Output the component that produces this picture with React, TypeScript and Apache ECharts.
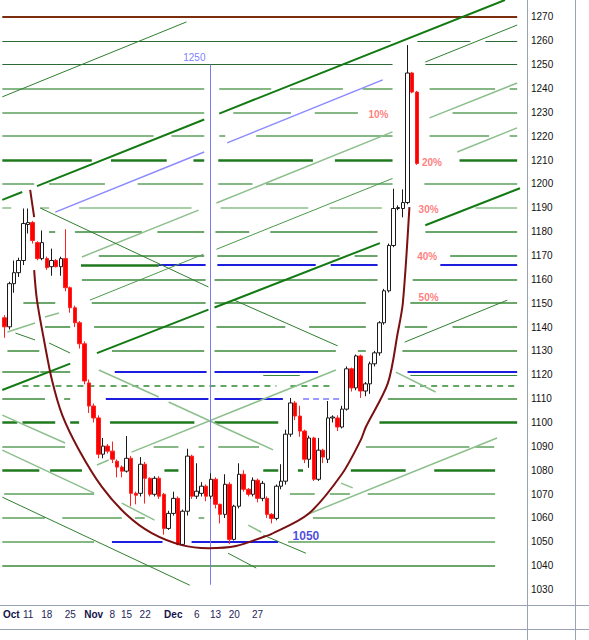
import React, { useEffect, useRef } from "react";
import * as echarts from "echarts";

// ---------- axes ----------
const slotCount = 112;
const tickSlots = [1, 5, 9, 14, 19, 23, 26, 30, 36, 41, 45, 49, 54];
const tickLabels = ["Oct", "11", "18", "25", "Nov", "8", "15", "22", "Dec", "6", "13", "20", "27"];
const monthLabels = ["Oct", "Nov", "Dec"];
const priceTicks = [1030, 1040, 1050, 1060, 1070, 1080, 1090, 1100, 1110, 1120, 1130, 1140, 1150, 1160, 1170, 1180, 1190, 1200, 1210, 1220, 1230, 1240, 1250, 1260, 1270];
const priceMin = 1023.5;
const priceMax = 1277.1;

// ---------- candles ----------
const opens = [1143.9, 1140.1, 1158.2, 1162.8, 1167.9, 1183.0, 1183.8, 1175.4, 1168.7, 1168.7, 1165.3, 1167.9, 1165.3, 1168.7, 1156.5, 1148.1, 1141.8, 1133.0, 1116.6, 1106.9, 1101.9, 1086.7, 1090.1, 1088.0, 1083.8, 1081.3, 1079.6, 1085.0, 1070.3, 1070.3, 1082.5, 1076.6, 1069.9, 1076.6, 1069.9, 1055.6, 1061.9, 1068.2, 1048.9, 1062.8, 1085.9, 1069.1, 1070.3, 1073.3, 1069.1, 1076.2, 1065.7, 1061.5, 1074.1, 1051.0, 1064.9, 1078.3, 1072.0, 1069.9, 1075.8, 1068.2, 1068.2, 1061.5, 1059.8, 1073.3, 1075.4, 1095.1, 1108.2, 1102.7, 1096.4, 1084.6, 1093.5, 1076.2, 1088.4, 1084.6, 1101.9, 1101.9, 1098.1, 1105.6, 1122.5, 1114.5, 1127.9, 1113.2, 1116.2, 1124.6, 1129.2, 1141.8, 1155.2, 1174.2, 1189.7, 1189.7, 1192.2, 1246.5, 1238.5];
const closes = [1140.1, 1158.2, 1162.8, 1167.9, 1183.4, 1183.8, 1176.3, 1168.7, 1175.4, 1164.9, 1167.9, 1165.3, 1168.7, 1156.5, 1148.1, 1141.8, 1133.0, 1117.4, 1106.9, 1101.9, 1086.7, 1090.1, 1088.0, 1084.6, 1081.3, 1079.6, 1085.0, 1070.3, 1069.5, 1082.5, 1076.6, 1069.9, 1076.6, 1069.1, 1055.6, 1061.9, 1068.2, 1048.9, 1062.8, 1085.9, 1069.1, 1071.2, 1073.3, 1069.1, 1076.2, 1065.7, 1061.5, 1074.1, 1051.0, 1064.9, 1078.3, 1072.0, 1069.9, 1075.8, 1068.2, 1074.5, 1061.5, 1059.8, 1073.3, 1075.4, 1095.1, 1108.2, 1102.7, 1096.4, 1084.6, 1093.5, 1076.2, 1088.4, 1085.5, 1101.9, 1102.3, 1098.1, 1105.6, 1122.5, 1114.5, 1127.9, 1113.2, 1116.2, 1124.6, 1129.2, 1141.8, 1155.2, 1174.2, 1189.7, 1190.1, 1192.2, 1246.5, 1238.5, 1208.6];
const lows = [1135.5, 1139.0, 1154.4, 1161.0, 1166.0, 1179.2, 1175.0, 1168.0, 1168.0, 1164.0, 1161.5, 1165.0, 1161.5, 1155.0, 1146.0, 1140.0, 1131.0, 1116.0, 1104.0, 1100.0, 1085.0, 1085.0, 1087.0, 1083.0, 1077.0, 1077.0, 1079.0, 1064.9, 1065.7, 1069.0, 1066.0, 1069.0, 1069.0, 1068.0, 1053.0, 1055.0, 1061.0, 1048.5, 1048.5, 1061.0, 1068.0, 1068.0, 1069.0, 1067.0, 1068.0, 1064.0, 1057.7, 1060.0, 1049.0, 1050.5, 1064.0, 1071.0, 1069.0, 1069.0, 1066.5, 1067.0, 1060.0, 1057.7, 1059.0, 1072.0, 1074.0, 1094.0, 1101.0, 1094.0, 1083.0, 1081.0, 1075.5, 1075.5, 1083.0, 1083.0, 1100.0, 1096.4, 1097.5, 1105.0, 1113.0, 1113.5, 1110.3, 1111.0, 1112.0, 1123.5, 1128.0, 1141.0, 1154.5, 1173.5, 1189.0, 1186.0, 1191.5, 1238.0, 1208.0];
const highs = [1145.0, 1159.0, 1167.9, 1169.1, 1189.7, 1189.7, 1184.5, 1176.0, 1180.5, 1169.5, 1172.9, 1168.5, 1169.5, 1181.0, 1157.0, 1149.0, 1142.5, 1134.0, 1118.0, 1108.0, 1103.0, 1093.5, 1091.0, 1092.0, 1084.5, 1082.0, 1094.3, 1086.0, 1071.0, 1085.5, 1083.5, 1077.0, 1077.5, 1077.5, 1070.5, 1063.0, 1071.0, 1069.0, 1063.5, 1089.0, 1086.5, 1082.9, 1075.0, 1074.0, 1078.7, 1077.0, 1066.0, 1078.3, 1075.0, 1065.5, 1082.9, 1080.0, 1072.5, 1077.0, 1076.5, 1075.5, 1069.0, 1062.0, 1074.0, 1082.5, 1097.0, 1110.3, 1109.0, 1107.0, 1097.0, 1094.5, 1094.0, 1093.5, 1089.0, 1109.0, 1103.0, 1103.0, 1107.0, 1123.5, 1123.0, 1128.5, 1128.5, 1117.0, 1125.5, 1130.0, 1142.5, 1156.0, 1175.0, 1198.0, 1191.0, 1197.7, 1258.2, 1247.0, 1239.0];

// ---------- horizontal level segments: [price, fromSlot, toSlot] ----------
const brownLevels = [[1270, -0.5, 109.4]];
const darkLevels = [
  [1260, -0.5, 82.4], [1260, 88.1, 99.4], [1260, 102.6, 109.4],
  [1250, -0.5, 82.8], [1250, 89.8, 109.4],
];
const lightLevels = [
  [1240, -0.5, 42.6], [1240, 45.8, 56.9], [1240, 60.9, 72.2], [1240, 76.4, 82.8], [1240, 90.7, 104.7], [1240, 107.8, 109.4],
  [1230, -0.5, 42.6], [1230, 48.8, 61.1], [1230, 66.2, 75.4], [1230, 95.6, 109.4],
  [1220, -0.5, 31.8], [1220, 35.6, 42.6], [1220, 45.8, 47.1], [1220, 53.7, 82.8], [1220, 90.7, 103.4], [1220, 107.8, 109.4],
  [1200, -0.5, 6.3], [1200, 9.5, 21.4], [1200, 28.4, 42.4], [1200, 45.6, 52.9], [1200, 55.8, 82.8], [1200, 89.6, 109.4],
  [1090, -0.5, 12.9], [1090, 31.8, 37.1], [1090, 41.4, 42.6], [1090, 45.6, 54.3], [1090, 77.1, 99.2], [1090, 100.5, 104.5],
  [1070, -0.1, 19.1], [1070, 60.9, 66.2], [1070, 69.4, 73.7], [1070, 77.5, 104.7],
  [1060, -0.5, 8.6], [1060, 12.3, 25], [1060, 27.8, 29.9], [1060, 41.4, 42.6], [1060, 65.8, 104.7],
  [1050, -0.5, 19.1], [1050, 60.5, 104.7],
];
const paleLevels = [
  [1190, -0.5, 1.4], [1190, 7.6, 9.5], [1190, 15.9, 39.9], [1190, 46.1, 64.8], [1190, 69.4, 80.5], [1190, 100.5, 109.4],
];
const midLevels = [
  [1180, 9.5, 10.8], [1180, 15, 29.3], [1180, 32.6, 42.6], [1180, 45, 52.2], [1180, 56.7, 79.6], [1180, 89.8, 109.4],
  [1170, 20.1, 42.6], [1170, 45.4, 71.5], [1170, 74.7, 79.6], [1170, 95.1, 109.4],
  [1160, 16.5, 42.9], [1160, 44.8, 79.6], [1160, 87.1, 109.4],
  [1150, 4, 10.8], [1150, 18.6, 42.9], [1150, 44.8, 77.1], [1150, 86.6, 109.4],
  [1140, 8.6, 14], [1140, 19.1, 42.6], [1140, 45.2, 59.9], [1140, 65, 77.1], [1140, 85.4, 90.2], [1140, 95.6, 109.4],
  [1130, 0.6, 7.4], [1130, 22.9, 42.6], [1130, 44.8, 70.7], [1130, 75.4, 77.1], [1130, 84.9, 109.4],
  [1121.2, -0.5, 7.4], [1121.2, 7.6, 14],
  [1110, -0.5, 8.6], [1110, 12.7, 14], [1110, 81.8, 109.4],
  [1040, -0.5, 104.7],
];
const thinGreenLevels = [[1119.8, 55.2, 63], [1119.8, 86.6, 109.4]];
const thickLevels = [
  [1210, -0.5, 18.6], [1210, 22.7, 34.6], [1210, 40.3, 42.6], [1210, 45.6, 65.8], [1210, 70.5, 82.8], [1210, 97.1, 109.4],
  [1166, 16.3, 32.9],
  [1100, -0.5, 2.7], [1100, 3.8, 10.8], [1100, 14, 15.9], [1100, 22.5, 40.5], [1100, 44.8, 58.4], [1100, 80, 109.4],
  [1080, -0.5, 7.4], [1080, 9.7, 16.5], [1080, 34.1, 37.1], [1080, 55.2, 58.4], [1080, 62.6, 63.7], [1080, 73.9, 85.6], [1080, 91.7, 104.7],
];
const blueLevels = [
  [1166, 32.9, 42.9], [1166, 45.4, 66.4], [1166, 69.6, 79.6], [1166, 93, 109.4],
  [1121.2, 23.5, 43.1], [1121.2, 44.8, 66.9], [1121.2, 86, 109.4],
  [1110, 21.6, 43.5], [1110, 44.8, 59.4],
  [1050, 22.9, 33.7], [1050, 39.9, 58.4],
];
const paleBlueLevels = [[1110, 63.7, 71.5]];
const dashedLevels = [[1115.3, 3.8, 58], [1115.3, 61, 70], [1115.3, 84, 109.4]];

// ---------- trend lines: [fromSlot, fromPrice, toSlot, toPrice] ----------
const thickTrends = [
  [-0.5, 1193.3, 3.75, 1196.6], [6.9, 1199.1, 42.6, 1227.0], [45.8, 1229.5, 106.8, 1277.1],
  [-0.5, 1113.6, 14, 1124.7], [19.7, 1129.1, 43.5, 1147.3], [44.8, 1148.2, 80.1, 1175.2], [89.8, 1182.7, 110, 1198.2],
];
const thinTrends = [
  [-0.5, 1236.5, 38.8, 1267.9],
  [89.8, 1251.1, 109.4, 1266.6],
  [7.6, 1189.9, 43.5, 1156.8], [49, 1151.3, 71.1, 1132.1],
  [85.4, 1133.7, 107.3, 1151.3],
  [2.3, 1137.5, 6.5, 1134.6], [9.5, 1133.3, 14, 1129.1],
  [-0.5, 1068.7, 39.5, 1031.8],
  [47.7, 1045.2, 53.7, 1039.0],
  [55.2, 1052.8, 64.3, 1045.2],
];
const lightTrends = [
  [16.5, 1169.4, 41.4, 1189.0], [45.2, 1192.0, 82.8, 1221.8],
  [19.7, 1082.2, 22.2, 1084.3], [27.1, 1087.6, 70.7, 1122.0],
  [20.1, 1122.0, 32.9, 1110.7], [35, 1108.6, 57.3, 1088.5],
  [64.3, 1061.2, 105.1, 1093.5],
  [83.5, 1121.1, 92, 1112.8],
  [90.7, 1227.7, 109.4, 1242.3], [96.6, 1213.4, 109.4, 1223.5],
  [-0.5, 1103.1, 12.9, 1091.4],
  [-0.5, 1088.4, 19.1, 1070.4],
  [25, 1066.2, 32, 1059.1],
  [52, 1057.0, 54.8, 1054.0],
  [71.8, 1074.6, 74.3, 1072.6],
  [0.6, 1137.9, 6.5, 1141.7], [8.6, 1144.2, 11.6, 1145.9],
];
const midTrends = [[18.2, 1151.3, 42.4, 1170.5], [45.2, 1172.6, 82.8, 1202.3]];
const lavenderTrends = [[10.8, 1188.2, 42.6, 1213.4], [47.5, 1217.2, 80.7, 1243.6]];
const markerLine = [[43.9, 1250, 43.9, 1032]];

// ---------- rounded bottom (cup) ----------
const cupTop = [[5.45, 1197.5], [6.3, 1186.1]];
const cupMain = [
  [6.3, 1163.9], [6.9, 1151.3], [8.4, 1134.6], [10.1, 1117.8], [12.3, 1103.1], [15.9, 1088.4],
  [20.8, 1072.9], [26.1, 1061.2], [31.4, 1053.6], [37.8, 1048.6], [43.5, 1047.3], [49.4, 1048.2],
  [55.2, 1052.0], [56.9, 1053.2], [64.8, 1061.6], [72, 1078.4], [76, 1092.6], [77.1, 1098.1],
  [81.8, 1116.5], [83.9, 1137.5], [85, 1150.1], [86.4, 1190.3],
];

// ---------- annotations ----------
const pctLabels = ["10%", "20%", "30%", "40%", "50%"];
const pctSlots = [79.8, 91.2, 90.5, 90.2, 90.5];
const pctValues = [1229.1, 1209.0, 1189.3, 1169.5, 1152.3];
const tagLabels = ["1250", "1050"];
const tagSlots = [40.5, 64.3];
const tagValues = [1252.8, 1052.4];

const FONT = "Liberation Sans, Arial, sans-serif";

function segs(list: number[][]) {
  return list.map(([v, a, b]) => ({ coords: [[a, v], [b, v]] }));
}
function trends(list: number[][]) {
  return list.map(([a, v1, b, v2]) => ({ coords: [[a, v1], [b, v2]] }));
}
function linesSeries(data: any[], lineStyle: any, z: number) {
  return {
    type: "lines",
    coordinateSystem: "cartesian2d",
    xAxisIndex: 1,
    yAxisIndex: 0,
    silent: true,
    z,
    lineStyle: { opacity: 1, ...lineStyle },
    data,
  };
}

export default function App() {
  const ref = useRef<HTMLDivElement>(null);
  useEffect(() => {
    if (!ref.current) return;
    const chart = echarts.init(ref.current, undefined, { renderer: "svg" });
    const categories = Array.from({ length: slotCount }, (_, i) => String(i));
    const labelOf: Record<number, string> = {};
    tickSlots.forEach((s, i) => (labelOf[s] = tickLabels[i]));
    const candleData = opens.map((o, i) => [o, closes[i], lows[i], highs[i]]);
    const frame = "#9aa3b6";
    const option: any = {
      animation: false,
      backgroundColor: "#ffffff",
      grid: { left: 0, top: 0, width: 527, height: 605, containLabel: false },
      xAxis: [
        {
          type: "category",
          data: categories,
          boundaryGap: true,
          axisLine: { show: false },
          axisTick: { show: false },
          splitLine: { show: false },
          axisLabel: {
            interval: 0,
            margin: 4,
            fontFamily: FONT,
            fontSize: 10,
            color: "#1e1e5a",
            formatter: (v: string) => {
              const t = labelOf[Number(v)];
              if (!t) return "";
              return monthLabels.includes(t) ? (t === "Oct" ? `{o|${t}}` : `{m|${t}}`) : `{n|${t}}`;
            },
            rich: {
              o: { fontWeight: "bold", fontSize: 10, fontFamily: FONT, color: "#14144a", padding: [0, 0, 0, 4] },
              m: { fontWeight: "bold", fontSize: 10, fontFamily: FONT, color: "#14144a" },
              n: { fontSize: 10, fontFamily: FONT, color: "#1e1e5a" },
            },
          },
        },
        { type: "value", min: -0.5, max: slotCount - 0.5, show: false },
      ],
      yAxis: {
        type: "value",
        position: "right",
        min: priceMin,
        max: priceMax,
        axisLine: { show: false },
        axisTick: { show: false },
        splitLine: { show: false },
        axisLabel: {
          customValues: priceTicks,
          margin: 4,
          fontFamily: FONT,
          fontSize: 10,
          color: "#111",
          formatter: (v: number) => String(Math.round(v)),
        },
      },
      graphic: [
        { type: "line", shape: { x1: 527.5, y1: 0, x2: 527.5, y2: 640 }, style: { stroke: frame, lineWidth: 1 }, z: 100 },
        { type: "line", shape: { x1: 575.5, y1: 0, x2: 575.5, y2: 640 }, style: { stroke: frame, lineWidth: 1 }, z: 100 },
        { type: "line", shape: { x1: 0, y1: 605.5, x2: 589, y2: 605.5 }, style: { stroke: frame, lineWidth: 1 }, z: 100 },
        { type: "line", shape: { x1: 0, y1: 629.5, x2: 589, y2: 629.5 }, style: { stroke: frame, lineWidth: 1 }, z: 100 },
      ],
      series: [
        linesSeries(segs(paleLevels), { color: "#a8cfa8", width: 2 }, 1),
        linesSeries(segs(lightLevels), { color: "#86b886", width: 2 }, 1),
        linesSeries(segs(midLevels), { color: "#3a883a", width: 1.5 }, 1),
        linesSeries(segs(thinGreenLevels), { color: "#3a883a", width: 1 }, 1),
        linesSeries(segs(darkLevels), { color: "#2c6a36", width: 1.2 }, 1),
        linesSeries(segs(thickLevels), { color: "#1f7a1f", width: 2.5 }, 1),
        linesSeries(segs(dashedLevels), { color: "#2e8b2e", width: 1.5, type: [6, 5] }, 1),
        linesSeries(segs(blueLevels), { color: "#1d1de0", width: 2 }, 2),
        linesSeries(segs(paleBlueLevels), { color: "#7a7aff", width: 1.5, type: [6, 4] }, 2),
        linesSeries(segs(brownLevels), { color: "#7a2e0e", width: 2 }, 2),
        linesSeries(trends(lightTrends), { color: "#8cbf8c", width: 1.5 }, 2),
        linesSeries(trends(midTrends), { color: "#4c9a4c", width: 1 }, 2),
        linesSeries(trends(thinTrends), { color: "#2f7f2f", width: 1 }, 2),
        linesSeries(trends(thickTrends), { color: "#137a13", width: 2 }, 2),
        linesSeries(trends(lavenderTrends), { color: "#8a8aff", width: 1.5 }, 2),
        linesSeries(trends(markerLine), { color: "#7c7cee", width: 1 }, 2),
        {
          type: "candlestick",
          xAxisIndex: 0,
          yAxisIndex: 0,
          data: candleData,
          barWidth: 4,
          z: 3,
          itemStyle: {
            color: "#ffffff",
            color0: "#ff0000",
            borderColor: "#1a1a1a",
            borderColor0: "#ff2020",
            borderWidth: 1,
          },
        },
        {
          type: "line",
          xAxisIndex: 1,
          yAxisIndex: 0,
          data: cupTop,
          symbol: "none",
          z: 4,
          lineStyle: { color: "#7a1010", width: 2 },
        },
        {
          type: "line",
          xAxisIndex: 1,
          yAxisIndex: 0,
          data: cupMain,
          symbol: "none",
          smooth: 0.3,
          z: 4,
          lineStyle: { color: "#7a1010", width: 2 },
        },
        {
          type: "scatter",
          xAxisIndex: 1,
          yAxisIndex: 0,
          symbolSize: 0,
          z: 6,
          data: pctSlots.map((x, i) => [x, pctValues[i], pctLabels[i]]),
          label: {
            show: true,
            position: "inside",
            formatter: (p: any) => p.data[2],
            color: "#ff5c5c",
            fontSize: 10,
            fontWeight: "bold",
            fontFamily: FONT,
          },
        },
        {
          type: "scatter",
          xAxisIndex: 1,
          yAxisIndex: 0,
          symbolSize: 0,
          z: 6,
          data: tagSlots.map((x, i) => ({
            value: [x, tagValues[i], tagLabels[i]],
            label: i === 1 ? { color: "#1c1cd8", fontSize: 12, fontWeight: "bold" } : {},
          })),
          label: {
            show: true,
            position: "inside",
            formatter: (p: any) => p.value[2],
            color: "#5a5aff",
            fontSize: 10,
            fontFamily: FONT,
          },
        },
      ],
    };
    chart.setOption(option);
    return () => chart.dispose();
  }, []);
  return <div ref={ref} style={{ position: "fixed", left: 0, top: 0, width: 589, height: 640 }} />;
}
